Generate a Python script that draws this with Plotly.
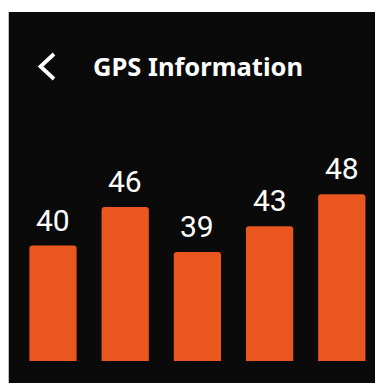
import plotly.graph_objects as go

# Satellite signal strengths shown as bars
satellites = ["S1", "S2", "S3", "S4", "S5"]
signal = [40, 46, 39, 43, 48]
title_text = "GPS Information"

W, H = 375, 383
BOTTOM = 22
plot_h = H - BOTTOM

BAR_COLOR = "#E9561E"
PANEL = "#0A0A0A"

fig = go.Figure(
    go.Bar(
        x=list(range(len(satellites))),
        y=signal,
        width=0.655,
        marker=dict(color=BAR_COLOR, line=dict(width=0), cornerradius=3),
        hovertext=satellites,
        hoverinfo="text+y",
    )
)

# value labels above each bar
for i, v in enumerate(signal):
    fig.add_annotation(
        x=i, y=v, xref="x", yref="y",
        text=str(v), showarrow=False,
        yanchor="bottom", yshift=6,
        font=dict(family="Roboto", size=30, color="#FFFFFF"),
    )

def px_x(p):
    return p / W

def px_y(p):
    return (plot_h - p) / plot_h

# dark card behind the chart
fig.add_shape(
    type="rect", xref="paper", yref="paper", layer="below",
    x0=px_x(9), x1=px_x(W + 5), y0=px_y(H + 5), y1=px_y(12),
    fillcolor=PANEL, line=dict(width=0),
)
# thin light edge on the left of the card
fig.add_shape(
    type="line", xref="paper", yref="paper", layer="below",
    x0=px_x(8.5), x1=px_x(8.5), y0=px_y(H + 5), y1=px_y(12),
    line=dict(color="#BDBDBD", width=1),
)
# back chevron
fig.add_shape(
    type="path", xref="paper", yref="paper",
    path=(f"M {px_x(54)} {px_y(54)} L {px_x(40.5)} {px_y(66.5)} "
          f"L {px_x(54)} {px_y(79)}"),
    line=dict(color="#FFFFFF", width=3.8),
)
# header title
fig.add_annotation(
    xref="paper", yref="paper", x=px_x(91), y=px_y(66),
    xanchor="left", yanchor="middle", showarrow=False,
    text=f"<b>{title_text}</b>",
    font=dict(family="Noto Sans", size=25.5, color="#FFFFFF"),
)

fig.update_layout(
    width=W, height=H,
    margin=dict(l=0, r=0, t=0, b=BOTTOM),
    paper_bgcolor="#FFFFFF",
    plot_bgcolor="rgba(0,0,0,0)",
    showlegend=False,
    xaxis=dict(range=[-0.734, 4.46], visible=False, fixedrange=True),
    yaxis=dict(range=[22.05, 22.05 + plot_h / 6.43], visible=False, fixedrange=True),
)

fig.write_html("out.html")
